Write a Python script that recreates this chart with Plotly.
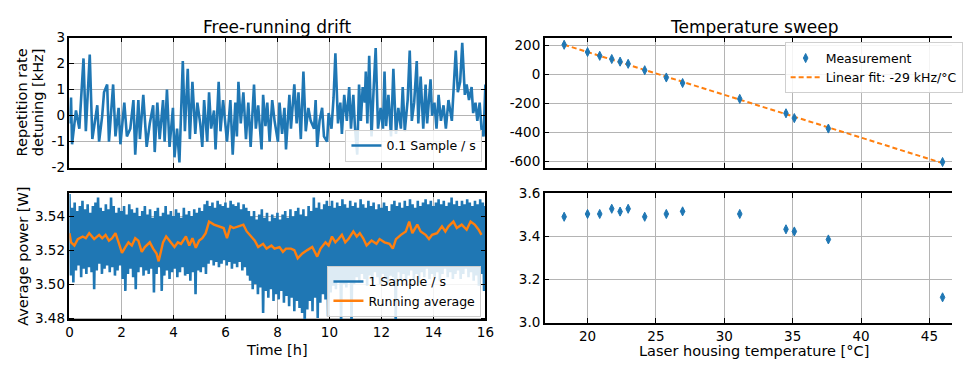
import numpy as np
import plotly.graph_objects as go

FONT = "DejaVu Sans"
BLUE = "#1f77b4"
ORANGE = "#ff7f0e"

# ---------------- data ----------------
drift_t = [0.00, 0.06, 0.10, 0.25, 0.38, 0.54, 0.63, 0.78, 0.88, 1.07,
           1.14, 1.26, 1.33, 1.45, 1.52, 1.68, 1.77, 1.89, 1.96, 2.11,
           2.21, 2.34, 2.46, 2.53, 2.65, 2.71, 2.84, 2.97, 3.09, 3.22,
           3.28, 3.38, 3.47, 3.60, 3.66, 3.75, 3.85, 3.98, 4.04, 4.14,
           4.23, 4.36, 4.44, 4.55, 4.63, 4.73, 4.84, 4.92, 5.03, 5.11,
           5.18, 5.30, 5.37, 5.45, 5.56, 5.62, 5.74, 5.81, 5.91, 6.00,
           6.06, 6.19, 6.28, 6.38, 6.44, 6.50, 6.59, 6.69, 6.79, 6.88,
           6.97, 7.10, 7.17, 7.26, 7.39, 7.45, 7.54, 7.61, 7.70, 7.80,
           7.89, 8.02, 8.08, 8.18, 8.27, 8.33, 8.46, 8.52, 8.65, 8.74,
           8.81, 8.90, 9.00, 9.09, 9.19, 9.28, 9.41, 9.47, 9.53, 9.62,
           9.72, 9.79, 9.91, 9.97, 10.08, 10.16, 10.23, 10.33, 10.42, 10.48,
           10.57, 10.67, 10.76, 10.83, 10.92, 10.98, 11.07, 11.14, 11.21, 11.28,
           11.36, 11.40, 11.46, 11.53, 11.62, 11.70, 11.78, 11.87, 11.97, 12.06,
           12.12, 12.18, 12.27, 12.37, 12.46, 12.56, 12.65, 12.75, 12.82, 12.90,
           13.01, 13.09, 13.17, 13.26, 13.36, 13.42, 13.51, 13.61, 13.70, 13.76,
           13.89, 13.95, 14.04, 14.12, 14.20, 14.29, 14.39, 14.48, 14.58, 14.71,
           14.77, 14.86, 14.94, 15.03, 15.11, 15.21, 15.28, 15.37, 15.47, 15.53,
           15.62, 15.69, 15.78, 15.85, 15.93, 16.00]
drift_khz = [-0.3, 0.7, -1.1, 0.2, -0.5, 2.2, -0.6, 2.35, -0.9, 0.4,
             -1.0, 0.0, 0.9, 1.2, -1.0, 1.2, -0.8, 0.3, -1.1, 0.5,
             -0.8, -0.5, 0.6, -1.5, 0.6, -0.9, 0.8, -1.2, -0.3, 0.4,
             -1.4, 0.5, -0.9, 0.6, -1.0, 1.0, -1.2, 0.3, -1.6, -0.5,
             -1.8, 2.1, -0.6, 1.8, -0.9, 1.3, -0.7, 0.5, -0.3, -1.2,
             0.6, -1.0, 0.9, -0.5, 0.2, -1.3, 1.3, -0.6, 0.6, -0.3,
             -1.0, 0.6, -1.5, 0.5, -0.8, 1.3, -0.3, 0.9, -0.9, 0.5,
             -1.2, 1.2, -0.5, 0.4, -1.3, 0.8, -0.4, 0.5, -1.0, 0.6,
             -0.2, -1.0, 0.5, -0.7, 0.3, -1.3, 0.8, -0.5, 1.2, -0.3,
             0.9, -0.9, 1.7, -0.6, 0.3, -0.2, -0.5, 0.6, -1.2, -0.2,
             0.3, -0.8, -1.0, 0.1, -0.5, 0.7, 2.4, -0.3, 0.5, -0.7,
             0.8, -0.2, 1.1, -0.5, 0.8, -0.4, -1.5, 1.2, -0.2, 1.1,
             0.5, 1.7, -0.3, 2.3, -0.8, 1.0, 2.6, -0.5, 0.3, -0.5,
             1.7, -0.4, 0.8, -0.8, 1.8, -0.7, 0.3, -0.5, 1.1, -0.6,
             0.6, 2.5, -0.2, 0.5, 2.1, -0.3, 1.5, -0.5, 1.2, -0.3,
             1.4, 0.0, 0.5, -0.5, 0.8, -0.2, 0.4, -0.5, 0.6, -0.2,
             1.0, 2.5, 0.9, 1.3, 2.8, 0.8, 1.2, 0.6, 1.1, 0.1,
             0.5, -0.2, 0.5, -0.5, -0.8, 1.2]

# 1 Sample/s power trace, read as alternating highs and lows every 0.05 h
power_hi = [3.553, 3.545, 3.548, 3.543, 3.546, 3.549, 3.544, 3.547, 3.542, 3.546,
            3.548, 3.551, 3.545, 3.543, 3.547, 3.544, 3.551, 3.546, 3.542, 3.545,
            3.543, 3.546, 3.541, 3.547, 3.544, 3.542, 3.545, 3.540, 3.543, 3.546,
            3.541, 3.544, 3.539, 3.543, 3.545, 3.540, 3.542, 3.546, 3.541, 3.543,
            3.540, 3.544, 3.542, 3.539, 3.545, 3.541, 3.543, 3.540, 3.544, 3.542,
            3.545, 3.543, 3.547, 3.549, 3.546, 3.548, 3.545, 3.549, 3.547, 3.546,
            3.548, 3.545, 3.549, 3.547, 3.546, 3.548, 3.544, 3.547, 3.545, 3.543,
            3.540, 3.543, 3.538, 3.541, 3.544, 3.539, 3.542, 3.537, 3.541, 3.539,
            3.542, 3.538, 3.541, 3.543, 3.539, 3.544, 3.540, 3.543, 3.545, 3.541,
            3.544, 3.540, 3.546, 3.543, 3.551, 3.545, 3.548, 3.544, 3.547, 3.549,
            3.546, 3.549, 3.545, 3.548, 3.546, 3.550, 3.547, 3.545, 3.549, 3.546,
            3.548, 3.545, 3.550, 3.547, 3.545, 3.549, 3.546, 3.548, 3.544, 3.547,
            3.545, 3.548, 3.546, 3.543, 3.547, 3.549, 3.546, 3.548, 3.545, 3.549,
            3.546, 3.550, 3.547, 3.545, 3.549, 3.546, 3.548, 3.550, 3.547, 3.549,
            3.546, 3.548, 3.550, 3.547, 3.549, 3.546, 3.548, 3.551, 3.547, 3.549,
            3.546, 3.549, 3.547, 3.550, 3.548, 3.546, 3.549, 3.547, 3.550, 3.548,
            3.546]
power_lo = [3.505, 3.501, 3.508, 3.511, 3.504, 3.509, 3.506, 3.510, 3.507, 3.497,
            3.508, 3.512, 3.506, 3.509, 3.511, 3.507, 3.510, 3.505, 3.508, 3.511,
            3.503, 3.496, 3.506, 3.509, 3.504, 3.497, 3.507, 3.510, 3.505, 3.508,
            3.506, 3.509, 3.495, 3.506, 3.510, 3.496, 3.505, 3.508, 3.503, 3.507,
            3.509, 3.504, 3.507, 3.510, 3.505, 3.506, 3.502, 3.507, 3.494, 3.508,
            3.507, 3.510, 3.506, 3.512, 3.514, 3.511, 3.513, 3.510, 3.512, 3.514,
            3.511, 3.513, 3.509, 3.512, 3.510, 3.513, 3.508, 3.510, 3.505, 3.502,
            3.497, 3.500, 3.494, 3.498, 3.483, 3.496, 3.492, 3.497, 3.490, 3.494,
            3.491, 3.496, 3.489, 3.493, 3.487, 3.492, 3.484, 3.490, 3.486, 3.483,
            3.476, 3.485, 3.490, 3.484, 3.492, 3.480, 3.489, 3.494, 3.491, 3.481,
            3.495, 3.499, 3.497, 3.502, 3.476, 3.500, 3.498, 3.501, 3.475, 3.500,
            3.504, 3.501, 3.506, 3.503, 3.499, 3.505, 3.502, 3.507, 3.504, 3.500,
            3.506, 3.503, 3.501, 3.505, 3.504, 3.477, 3.507, 3.503, 3.506, 3.502,
            3.505, 3.508, 3.503, 3.506, 3.501, 3.507, 3.504, 3.509, 3.503, 3.506,
            3.504, 3.507, 3.502, 3.506, 3.509, 3.504, 3.507, 3.503, 3.506, 3.508,
            3.503, 3.506, 3.509, 3.504, 3.507, 3.502, 3.505, 3.499, 3.506, 3.496,
            3.503]

avg_t = [0.00, 0.06, 0.19, 0.32, 0.51, 0.63, 0.76, 0.95, 1.14, 1.26,
         1.39, 1.52, 1.64, 1.77, 1.89, 2.02, 2.15, 2.27, 2.40, 2.53,
         2.65, 2.78, 2.90, 3.09, 3.22, 3.35, 3.43, 3.60, 3.72, 3.85,
         4.04, 4.17, 4.29, 4.48, 4.61, 4.73, 4.86, 4.99, 5.11, 5.24,
         5.37, 5.56, 5.74, 5.93, 6.06, 6.19, 6.31, 6.50, 6.69, 6.82,
         7.01, 7.13, 7.26, 7.45, 7.58, 7.77, 7.89, 8.08, 8.21, 8.33,
         8.52, 8.65, 8.78, 8.96, 9.15, 9.34, 9.53, 9.66, 9.85, 9.97,
         10.10, 10.23, 10.35, 10.48, 10.61, 10.73, 10.92, 11.05, 11.17, 11.30,
         11.43, 11.62, 11.81, 11.93, 12.12, 12.31, 12.44, 12.56, 12.75, 12.94,
         13.07, 13.19, 13.38, 13.51, 13.70, 13.83, 13.95, 14.14, 14.33, 14.46,
         14.58, 14.77, 14.90, 15.09, 15.28, 15.43, 15.59, 15.74, 15.85]
avg_w = [3.530, 3.5246, 3.5227, 3.5265, 3.528, 3.527, 3.530, 3.5265, 3.529, 3.527,
         3.529, 3.5256, 3.527, 3.530, 3.5246, 3.5184, 3.5218, 3.5246, 3.5227, 3.527,
         3.5256, 3.519, 3.5218, 3.5246, 3.5209, 3.518, 3.5134, 3.5246, 3.528, 3.5256,
         3.5218, 3.5246, 3.5237, 3.528, 3.5227, 3.527, 3.5214, 3.5256, 3.527, 3.530,
         3.5368, 3.535, 3.534, 3.533, 3.527, 3.534, 3.533, 3.534, 3.535, 3.531,
         3.528, 3.5256, 3.5218, 3.5237, 3.5209, 3.5227, 3.5209, 3.5218, 3.519, 3.5209,
         3.5209, 3.520, 3.5152, 3.518, 3.520, 3.5218, 3.5162, 3.5209, 3.5246, 3.5227,
         3.528, 3.5246, 3.5265, 3.529, 3.5246, 3.5265, 3.531, 3.528, 3.530, 3.527,
         3.5227, 3.5256, 3.5237, 3.5265, 3.5246, 3.5237, 3.5209, 3.5265, 3.529, 3.531,
         3.5368, 3.530, 3.535, 3.531, 3.529, 3.5265, 3.529, 3.530, 3.534, 3.531,
         3.534, 3.5368, 3.533, 3.535, 3.532, 3.5368, 3.535, 3.532, 3.529]

sweep_temp = [18.29, 20.00, 20.89, 21.77, 22.38, 22.97, 24.18, 25.76, 26.95,
              31.13, 34.51, 35.12, 37.61, 45.96]
sweep_khz = [204, 154, 128, 106, 88, 73, 29, -21, -59, -168, -267, -300, -372, -602]
sweep_power = [3.490, 3.503, 3.503, 3.527, 3.514, 3.527, 3.490, 3.503, 3.515,
               3.503, 3.432, 3.422, 3.385, 3.117]

drift_ticks = [-2, -1, 0, 1, 2, 3]
drift_ticktext = ["-2", "-1", "0", "1", "2", "3"]
time_ticks = [0, 2, 4, 6, 8, 10, 12, 14, 16]
power_ticks = [3.48, 3.50, 3.52, 3.54]
sweep_khz_ticks = [-600, -400, -200, 0, 200]
sweep_khz_ticktext = ["-600", "-400", "-200", "0", "200"]
temp_ticks = [20, 25, 30, 35, 40, 45]
sweep_power_ticks = [3.0, 3.2, 3.4, 3.6]

# ---------------- figure ----------------
W, H = 963, 365
def fx(p):
    return p / W
def fy(p):
    return 1 - p / H

power_t = []
power_v = []
for i in range(len(power_hi)):
    power_t += [round(i * 0.1, 2), round(i * 0.1 + 0.05, 2)]
    power_v += [power_hi[i], power_lo[i]]

coef = np.polyfit(sweep_temp, sweep_khz, 1)
fit_x = [min(sweep_temp), max(sweep_temp)]
fit_y = list(np.polyval(coef, fit_x))

mk = dict(symbol="diamond-tall", size=6.5, color=BLUE, line=dict(color=BLUE, width=1))

fig = go.Figure()
fig.add_trace(go.Scatter(x=drift_t, y=drift_khz, mode="lines", name="0.1 Sample / s",
                         line=dict(color=BLUE, width=2.6), xaxis="x", yaxis="y", legend="legend"))
fig.add_trace(go.Scatter(x=power_t, y=power_v, mode="lines", name="1 Sample / s",
                         line=dict(color=BLUE, width=2.6), xaxis="x2", yaxis="y2",
                         legend="legend2", legendrank=1))
fig.add_trace(go.Scatter(x=avg_t, y=avg_w, mode="lines", name="Running average",
                         line=dict(color=ORANGE, width=2.4), xaxis="x2", yaxis="y2",
                         legend="legend2", legendrank=2))
fig.add_trace(go.Scatter(x=fit_x, y=fit_y, mode="lines", name="Linear fit: -29 kHz/°C",
                         line=dict(color=ORANGE, width=2, dash="5px,3px"),
                         xaxis="x3", yaxis="y3", legend="legend3", legendrank=2))
fig.add_trace(go.Scatter(x=sweep_temp, y=sweep_khz, mode="markers", name="Measurement",
                         marker=mk, xaxis="x3", yaxis="y3", legend="legend3", legendrank=1))
fig.add_trace(go.Scatter(x=sweep_temp, y=sweep_power, mode="markers", showlegend=False,
                         marker=mk, xaxis="x4", yaxis="y4"))

axis_common = dict(showline=True, linecolor="black", linewidth=1.5, mirror="ticks",
                   ticks="inside", ticklen=5, tickwidth=1.3, tickcolor="black",
                   showgrid=True, gridcolor="#b4b4b4", gridwidth=1.3, zeroline=False,
                   tickfont=dict(size=13.5, color="black", family=FONT))

L_dom = [fx(66.5), fx(489)]
R_dom = [fx(549.3), 1.0]
T_dom = [fy(167), fy(31)]
BL_dom = [fy(325.7), fy(193)]
BR_dom = [fy(329), fy(193.5)]

leg_common = dict(bgcolor="rgba(255,255,255,0.85)", bordercolor="#cfcfcf", borderwidth=1,
                  font=dict(size=12.5, family=FONT, color="black"), itemwidth=30,
                  tracegroupgap=0, traceorder="normal")

fig.update_layout(
    width=W, height=H, margin=dict(l=0, r=0, t=0, b=0),
    plot_bgcolor="white", paper_bgcolor="white",
    font=dict(family=FONT, color="black", size=13.5),
    xaxis=dict(axis_common, domain=L_dom, anchor="y", range=[0, 16], tickvals=time_ticks,
               showticklabels=False),
    yaxis=dict(axis_common, domain=T_dom, anchor="x", range=[-2, 3], tickvals=drift_ticks,
               ticktext=drift_ticktext),
    xaxis2=dict(axis_common, domain=L_dom, anchor="y2", range=[0, 16], tickvals=time_ticks),
    yaxis2=dict(axis_common, domain=BL_dom, anchor="x2", range=[3.4792, 3.5539],
                tickvals=power_ticks, tickformat=".2f"),
    xaxis3=dict(axis_common, domain=R_dom, anchor="y3", range=[16.87, 46.65],
                tickvals=temp_ticks, showticklabels=False),
    yaxis3=dict(axis_common, domain=T_dom, anchor="x3", range=[-641, 253],
                tickvals=sweep_khz_ticks, ticktext=sweep_khz_ticktext, mirror=False),
    xaxis4=dict(axis_common, domain=R_dom, anchor="y4", range=[16.87, 46.65],
                tickvals=temp_ticks),
    yaxis4=dict(axis_common, domain=BR_dom, anchor="x4", range=[3.0, 3.6],
                tickvals=sweep_power_ticks, tickformat=".1f", mirror=False),
    legend=dict(leg_common, x=fx(486), xanchor="right", y=fy(161), yanchor="bottom"),
    legend2=dict(leg_common, x=fx(485), xanchor="right", y=fy(323), yanchor="bottom"),
    legend3=dict(leg_common, x=fx(793), xanchor="left", y=fy(36), yanchor="top"),
)

ann = [
    dict(text="Free-running drift", x=fx(277.75), y=fy(19.5), size=17, angle=0),
    dict(text="Temperature sweep", x=fx(762), y=fy(19.5), size=17, angle=0),
    dict(text="Time [h]", x=fx(277.75), y=fy(358), size=14.5, angle=0),
    dict(text="Laser housing temperature [°C]", x=fx(761.5), y=fy(358.5), size=14.5, angle=0),
    dict(text="Repetition rate", x=fx(18), y=fy(99), size=14.5, angle=-90),
    dict(text="detuning [kHz]", x=fx(34), y=fy(99), size=14.5, angle=-90),
    dict(text="Average power [W]", x=fx(19), y=fy(259.5), size=14.5, angle=-90),
]
for a in ann:
    fig.add_annotation(text=a["text"], x=a["x"], y=a["y"], xref="paper", yref="paper",
                       xanchor="center", yanchor="middle", showarrow=False,
                       textangle=a["angle"], font=dict(size=a["size"], family=FONT, color="black"))

fig.write_html("out.html")
